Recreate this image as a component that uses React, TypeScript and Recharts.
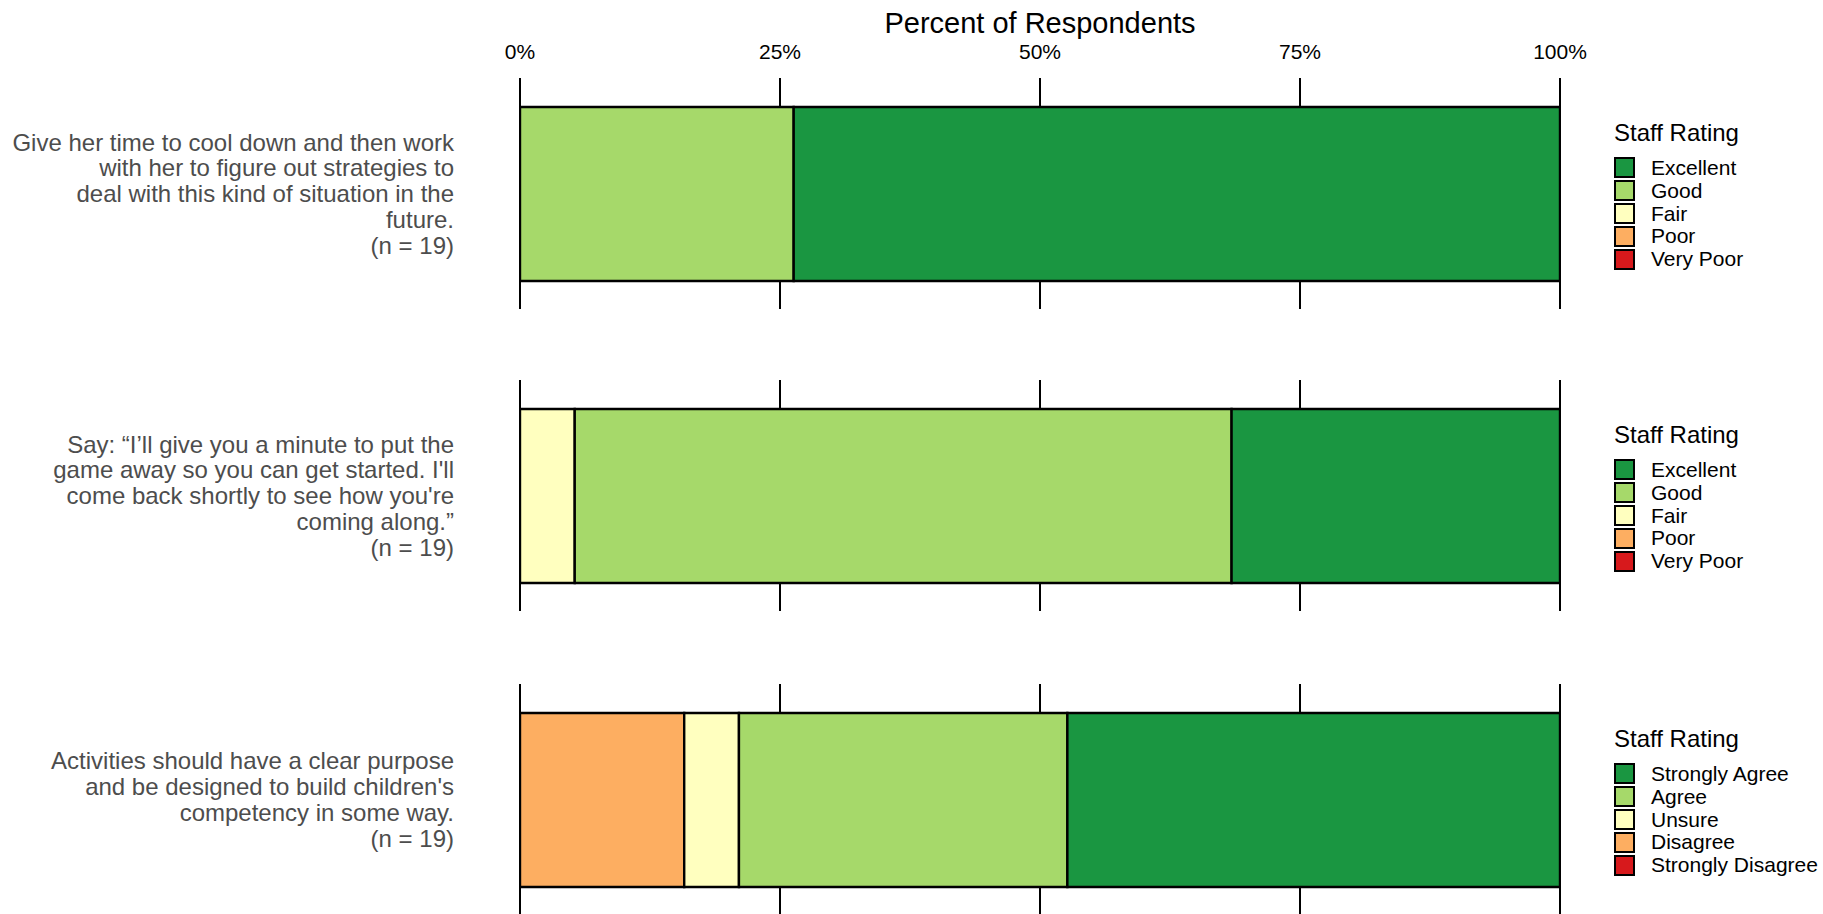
import { BarChart, Bar, XAxis, YAxis, CartesianGrid, Legend } from 'recharts';

const FONT = '"Liberation Sans", Arial, sans-serif';

// response levels, listed from the left end of the bar to the right end
const ratingLevels = ['Very Poor', 'Poor', 'Fair', 'Good', 'Excellent'];
const agreeLevels = ['Strongly Disagree', 'Disagree', 'Unsure', 'Agree', 'Strongly Agree'];
const levelColors = ['#d7191c', '#fdae61', '#ffffbf', '#a6d96a', '#1a9641'];
const percentTicks = [0, 25, 50, 75, 100];

const item1Text = [
    'Give her time to cool down and then work',
    'with her to figure out strategies to',
    'deal with this kind of situation in the',
    'future.',
    '(n = 19)',
];
const item2Text = [
    'Say: \u201cI\u2019ll give you a minute to put the',
    "game away so you can get started. I'll",
    "come back shortly to see how you're",
    'coming along.\u201d',
    '(n = 19)',
];
const item3Text = [
    'Activities should have a clear purpose',
    "and be designed to build children's",
    'competency in some way.',
    '(n = 19)',
];

// counts of respondents per level (n = 19)
const item1Counts = [0, 0, 0, 5, 14];
const item2Counts = [0, 0, 1, 12, 6];
const item3Counts = [0, 3, 1, 6, 9];

const buildRows = (name: string, counts: number[]) => {
    const n = counts.reduce((a, b) => a + b, 0);
    const row: Record<string, any> = { item: name };
    counts.forEach((c, i) => { row['s' + i] = (c / n) * 100; });
    return [row];
};

const makeItemTick = (lines: string[]) => (props: any) => {
    const { x, y } = props;
    const lh = 25.8;
    const start = y - ((lines.length - 1) * lh) / 2;
    return (
        <text x={x} y={start} textAnchor="end" fill="#4d4d4d" fontSize={24} fontFamily={FONT}>
            {lines.map((l, i) => (
                <tspan key={i} x={x} y={start + i * lh} dy="0.36em">{l}</tspan>
            ))}
        </text>
    );
};

const makeLegend = (levels: string[]) => () => {
    const order = levels.map((_, i) => levels.length - 1 - i);
    return (
        <div style={{ fontFamily: FONT, color: '#000', textAlign: 'left' }}>
            <div style={{ fontSize: 24, lineHeight: '26px', marginBottom: 11, whiteSpace: 'nowrap' }}>Staff Rating</div>
            {order.map((idx) => (
                <div key={idx} style={{ display: 'flex', alignItems: 'center', height: 22.8 }}>
                    <span style={{ width: 17, height: 17, background: levelColors[idx], border: '2px solid #000', display: 'inline-block' }} />
                    <span style={{ marginLeft: 16, fontSize: 21, whiteSpace: 'nowrap' }}>{levels[idx]}</span>
                </div>
            ))}
        </div>
    );
};

interface PanelProps {
    top: number;
    text: string[];
    counts: number[];
    levels: string[];
    showAxis?: boolean;
}

const PLOT_H = 231;
const AXIS_H = 78;

const Panel = ({ top, text, counts, levels, showAxis = false }: PanelProps) => {
    const data = buildRows(text[0], counts);
    const height = PLOT_H + (showAxis ? AXIS_H : 0);
    const barCenter = (showAxis ? AXIS_H : 0) + PLOT_H / 2;
    return (
        <div style={{ position: 'absolute', left: 0, top }}>
            <BarChart
                width={1823}
                height={height}
                data={data}
                layout="vertical"
                margin={{ top: 0, right: 263, bottom: 0, left: 0 }}
            >
                <CartesianGrid horizontal={false} stroke="#000" strokeWidth={2} />
                <XAxis
                    type="number"
                    domain={[0, 100]}
                    allowDataOverflow
                    ticks={percentTicks}
                    tickFormatter={(v) => v + '%'}
                    orientation="top"
                    hide={!showAxis}
                    height={showAxis ? AXIS_H : 0}
                    axisLine={false}
                    tickLine={false}
                    tickSize={0}
                    tickMargin={19}
                    tick={{ fontSize: 21, fill: '#000', fontFamily: FONT }}
                    label={showAxis ? {
                        value: 'Percent of Respondents',
                        position: 'insideTop',
                        offset: 12,
                        style: { fontSize: 29, fill: '#000', fontFamily: FONT },
                    } : undefined}
                />
                <YAxis
                    type="category"
                    dataKey="item"
                    width={520}
                    axisLine={false}
                    tickLine={false}
                    tickSize={0}
                    tickMargin={66}
                    tick={makeItemTick(text)}
                />
                <Legend
                    layout="horizontal"
                    verticalAlign="middle"
                    align="center"
                    content={makeLegend(levels)}
                    wrapperStyle={{ left: 1614, top: barCenter - 74, width: 'auto', height: 'auto' }}
                />
                {levels.map((lv, i) => (
                    <Bar
                        key={lv}
                        dataKey={'s' + i}
                        name={lv}
                        stackId="a"
                        barSize={174}
                        fill={levelColors[i]}
                        stroke="#000"
                        strokeWidth={2.4}
                        isAnimationActive={false}
                    />
                ))}
            </BarChart>
        </div>
    );
};

const App = () => {
    return (
        <div style={{ position: 'absolute', left: 0, top: 0, width: 1823, height: 914, background: '#fff', overflow: 'hidden' }}>
            <Panel top={0} text={item1Text} counts={item1Counts} levels={ratingLevels} showAxis />
            <Panel top={380} text={item2Text} counts={item2Counts} levels={ratingLevels} />
            <Panel top={684} text={item3Text} counts={item3Counts} levels={agreeLevels} />
        </div>
    );
};

export default App;
